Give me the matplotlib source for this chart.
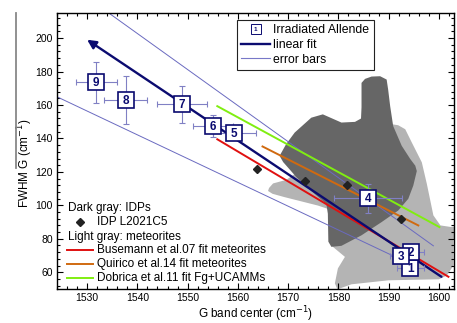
import numpy as np
import matplotlib
matplotlib.use('Agg')
import matplotlib.pyplot as plt
from matplotlib.lines import Line2D
from matplotlib.patches import Rectangle, Polygon
from matplotlib.text import Text
from matplotlib.legend_handler import HandlerBase
from matplotlib.ticker import MultipleLocator

plt.rcParams['font.family'] = ['Liberation Sans', 'DejaVu Sans']

# irradiated Allende samples (numbered squares)
allende_id = ['1', '2', '3', '4', '5', '6', '7', '8', '9']
allende_x = [1594.3, 1594.4, 1592.4, 1585.9, 1559.3, 1555.1, 1548.9, 1537.7, 1531.8]
allende_y = [62.7, 72.2, 69.8, 104.3, 143.1, 147.4, 160.3, 162.9, 173.6]
allende_xerr = [2.7, 2.7, 2.2, 6.7, 4.3, 4.0, 4.9, 4.3, 4.1]
allende_yerr = [3, 3, 3, 8.7, 4, 6.5, 11.2, 14.4, 12.3]

# IDP L2021C5
idp_x = [1563.8, 1573.3, 1581.7, 1592.5]
idp_y = [121.7, 114.8, 112.2, 91.6]

# linear fit (arrow) and its error band lines
fit_x = [1600.5, 1530.0]
fit_y = [57.3, 199.0]
band_hi_x = [1534.3, 1598.9]
band_hi_y = [215.0, 75.8]
band_lo_x = [1524.0, 1590.6]
band_lo_y = [164.9, 70.2]

# literature fits
bus_x = [1555.9, 1601.9]
bus_y = [139.5, 57.3]
qui_x = [1564.9, 1595.9]
qui_y = [135.2, 88.0]
dob_x = [1555.9, 1600.1]
dob_y = [159.3, 87.0]

# dark gray region: IDPs
idp_reg_x = [1584.6, 1585.3, 1586.6, 1588.3, 1589.6, 1589.9, 1590.3, 1590.9, 1592.6,
             1594.3, 1595.3, 1595.6, 1594.9, 1593.9, 1591.9, 1588.6, 1584.6, 1580.6,
             1578.6, 1578.0, 1577.9, 1577.6, 1574.6, 1571.6, 1569.0, 1568.3, 1569.6,
             1571.3, 1574.6, 1576.9, 1580.6, 1583.3, 1584.5, 1584.6, 1584.6]
idp_reg_y = [173.2, 175.6, 177.0, 177.2, 175.2, 169.2, 159.3, 147.4, 135.6,
             127.7, 123.7, 120.5, 111.8, 103.9, 96.9, 90.0, 82.1, 75.8,
             75.2, 78.3, 95.0, 100.9, 108.6, 117.0, 125.9, 129.6, 136.6,
             143.5, 152.4, 154.4, 149.5, 149.9, 151.9, 158.6, 168.6]

# light gray region: meteorites
met_reg_x = [1566.2, 1567.0, 1569.6, 1578.6, 1590.6, 1591.9, 1593.3, 1594.6, 1596.6,
             1597.6, 1598.9, 1600.3, 1602.3, 1603.6, 1603.6, 1602.9, 1602.9, 1601.6,
             1600.0, 1590.0, 1582.6, 1579.8, 1579.3, 1579.9, 1581.3, 1578.9, 1578.3,
             1577.9, 1575.9, 1569.3, 1566.9, 1566.0]
met_reg_y = [110.4, 113.1, 115.2, 133.6, 148.5, 147.9, 145.5, 137.6, 125.7,
             112.8, 94.0, 88.0, 87.1, 87.3, 80.1, 79.5, 64.1, 58.1,
             55.8, 55.2, 52.8, 49.8, 53.4, 62.3, 69.2, 75.2, 90.0,
             97.9, 99.9, 104.9, 106.9, 108.6]

navy = '#0b0b70'
errc = '#8080c4'


class BoxNumHandler(HandlerBase):
    def create_artists(self, legend, orig_handle, xdescent, ydescent,
                       width, height, fontsize, trans):
        cx = width / 2 - xdescent
        cy = height / 2 - ydescent
        r = Rectangle((cx - 3.5, cy - 3.5), 7, 7, fc='white', ec=navy, lw=0.7,
                      transform=trans)
        t = Text(cx, cy - 0.3, '1', ha='center', va='center', fontsize=4.5,
                 color=navy, fontweight='bold', transform=trans)
        return [r, t]


fig = plt.figure(figsize=(4.57, 3.23), dpi=100)
ax = fig.add_axes([0.1247, 0.1053, 0.8687, 0.8545])

ax.add_patch(Polygon(np.column_stack([met_reg_x, met_reg_y]), closed=True,
                     fc='#b4b4b4', ec='none', zorder=1))
ax.add_patch(Polygon(np.column_stack([idp_reg_x, idp_reg_y]), closed=True,
                     fc='#666666', ec='none', zorder=1.5))

ax.plot(band_hi_x, band_hi_y, color='#6a6ac0', lw=0.7, zorder=2)
ax.plot(band_lo_x, band_lo_y, color='#6a6ac0', lw=0.7, zorder=2)

ax.plot(bus_x, bus_y, color='#e01010', lw=1.4, zorder=3)
ax.plot(qui_x, qui_y, color='#d06a10', lw=1.4, zorder=3)
ax.plot(dob_x, dob_y, color='#80ee10', lw=1.4, zorder=3)

ax.annotate('', xy=(fit_x[1], fit_y[1]), xytext=(fit_x[0], fit_y[0]),
            arrowprops=dict(arrowstyle='-|>', color=navy, lw=1.7,
                            mutation_scale=13, shrinkA=0, shrinkB=0), zorder=4)

ax.plot(idp_x, idp_y, 'D', color='#222222', ms=4.5, zorder=4)

ax.errorbar(allende_x, allende_y, xerr=allende_xerr, yerr=allende_yerr, fmt='none',
            ecolor=errc, elinewidth=0.8, capsize=2, capthick=0.8, zorder=4.5)
for i in range(len(allende_id)):
    ax.plot(allende_x[i], allende_y[i], 's', ms=11.5, mfc='white', mec=navy,
            mew=1.2, zorder=5 + i * 0.01)
    ax.text(allende_x[i], allende_y[i] - 0.5, allende_id[i], ha='center', va='center',
            fontsize=8.5, fontweight='bold', color=navy, zorder=5.005 + i * 0.01)

ax.set_xlim(1524, 1603)
ax.set_ylim(50, 215)
ax.xaxis.set_major_locator(MultipleLocator(10))
ax.xaxis.set_minor_locator(MultipleLocator(2))
ax.yaxis.set_major_locator(MultipleLocator(20))
ax.yaxis.set_minor_locator(MultipleLocator(4))
ax.set_yticks(np.arange(60, 201, 20))
ax.tick_params(which='both', direction='in', top=True, right=True, labelsize=7.5,
               width=0.8, pad=3)
ax.tick_params(which='major', length=4)
ax.tick_params(which='minor', length=2)
for s in ax.spines.values():
    s.set_linewidth(1.0)

ax.set_xlabel('G band center (cm$^{-1}$)', fontsize=8.5, labelpad=1)
ax.set_ylabel('FWHM G (cm$^{-1}$)', fontsize=8.5)
ax.yaxis.set_label_coords(-0.056, 0.455)

# upper legend
handles = [object(),
           Line2D([], [], color=navy, lw=1.7),
           Line2D([], [], color='#7878c8', lw=0.8)]
leg = ax.legend(handles, ['Irradiated Allende', 'linear fit', 'error bars'],
                handler_map={object: BoxNumHandler()},
                loc='upper left', bbox_to_anchor=(0.4527, 0.9746), borderaxespad=0,
                fontsize=8.8, frameon=True, fancybox=False, framealpha=1,
                edgecolor='#222222', handlelength=2.4, handletextpad=0.25,
                labelspacing=0.22, borderpad=0.35)
leg.get_frame().set_linewidth(0.8)
leg.set_zorder(10)

# lower-left annotation legend
tr = ax.transAxes
ax.text(0.0285, 0.292, 'Dark gray: IDPs', transform=tr, fontsize=8.5, va='center')
ax.plot([0.058], [0.244], 'D', color='#222222', ms=4.5, transform=tr)
ax.text(0.100, 0.244, 'IDP L2021C5', transform=tr, fontsize=8.5, va='center')
ax.text(0.0285, 0.189, 'Light gray: meteorites', transform=tr, fontsize=8.5, va='center')
rows = [(0.141, '#e01010', 'Busemann et al.07 fit meteorites'),
        (0.089, '#d06a10', 'Quirico et al.14 fit meteorites'),
        (0.039, '#80ee10', 'Dobrica et al.11 fit Fg+UCAMMs')]
for yy, c, lab in rows:
    ax.plot([0.024, 0.091], [yy, yy], color=c, lw=1.4, transform=tr)
    ax.text(0.100, yy, lab, transform=tr, fontsize=8.5, va='center')

# gray stroke left of the y label, as in the original figure
fig.add_artist(Line2D([16 / 457, 16 / 457], [1 - 13 / 323, 1 - 168 / 323],
                      color='#888888', lw=1.3))

fig.savefig('out.png', dpi=100)
